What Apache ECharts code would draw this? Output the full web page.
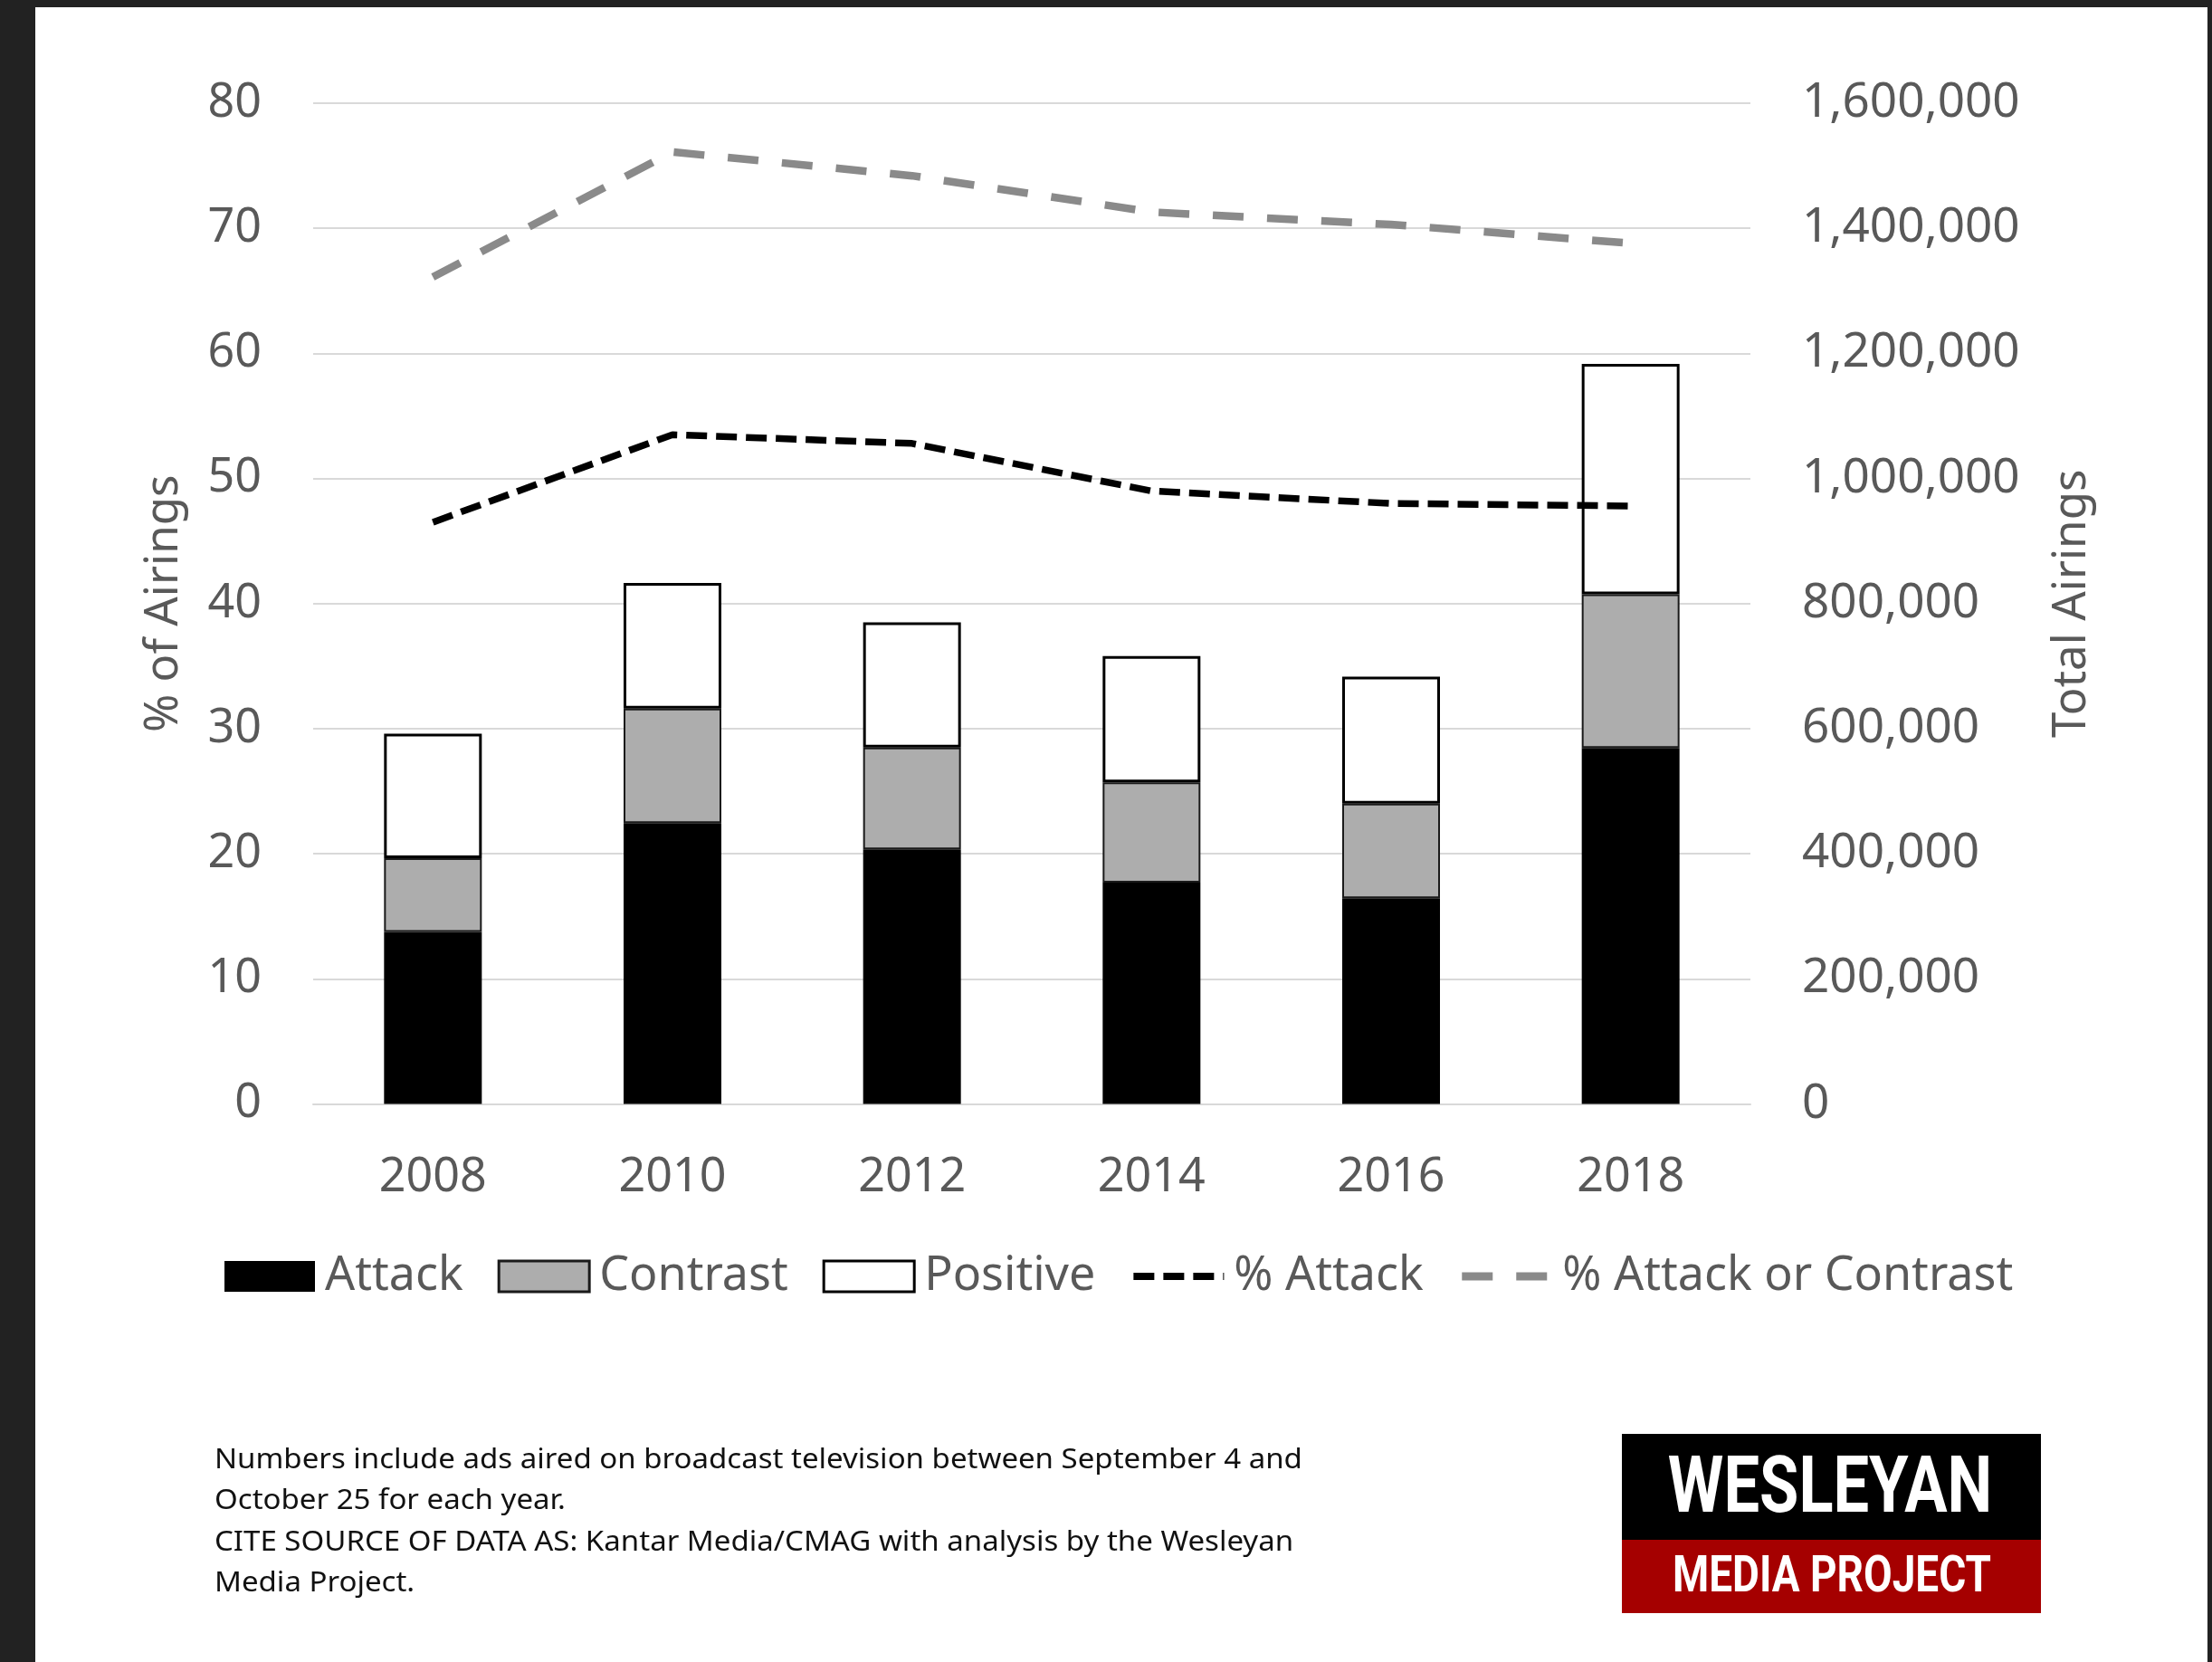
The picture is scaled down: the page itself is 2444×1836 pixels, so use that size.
<!DOCTYPE html>
<html>
<head>
<meta charset="utf-8">
<script src="https://cdn.jsdelivr.net/npm/echarts@6/dist/echarts.min.js"></script>
<style>
  html, body { margin: 0; padding: 0; background: #222; }
  #chart { width: 2444px; height: 1836px; }
</style>
</head>
<body>
<div id="chart"></div>
<script>
// values
const years = ["2008", "2010", "2012", "2014", "2016", "2018"];
const attack = [275000, 449000, 407000, 354000, 329000, 569000];
const contrast = [118000, 183000, 163000, 160000, 151000, 246000];
const positive = [199000, 201000, 200000, 202000, 203000, 368000];
const pctAttack = [46.5, 53.5, 52.8, 49.0, 48.0, 47.8];
const pctAttackOrContrast = [66.1, 76.1, 74.2, 71.3, 70.3, 68.8];
const footerLines = [
    "Numbers include ads aired on broadcast television between September 4 and",
    "October 25 for each year.",
    "CITE SOURCE OF DATA AS: Kantar Media/CMAG with analysis by the Wesleyan",
    "Media Project."
];

const FONT = "Noto Sans";
const LABEL = "#595959";
const noSymbol = { color: "rgba(0,0,0,0)", borderWidth: 0 };

const chart = echarts.init(document.getElementById("chart"));
chart.setOption({
    backgroundColor: "#222222",
    animation: false,
    textStyle: { fontFamily: FONT },
    grid: { left: 346, right: 510, top: 114, bottom: 616.5, containLabel: false },
    legend: {
        left: 248,
        top: 1384,
        padding: 0,
        itemWidth: 100,
        itemHeight: 34,
        itemGap: 38,
        textStyle: { fontFamily: FONT, fontSize: 52, color: LABEL, padding: [0, 0, 0, 6] },
        data: [
            { name: "Attack", icon: "rect", itemStyle: { borderWidth: 0 } },
            { name: "Contrast", icon: "rect", itemStyle: { borderWidth: 3 } },
            { name: "Positive", icon: "rect", itemStyle: { borderWidth: 3 } },
            { name: "% Attack", itemStyle: noSymbol, lineStyle: { width: 8 } },
            { name: "% Attack or Contrast", itemStyle: noSymbol, lineStyle: { width: 9 } }
        ]
    },
    xAxis: {
        type: "category",
        data: years,
        axisLine: { show: true, lineStyle: { color: "#D9D9D9", width: 2 } },
        axisTick: { show: false },
        axisLabel: { fontFamily: FONT, fontSize: 52, color: LABEL, margin: 56 }
    },
    yAxis: [
        {
            type: "value",
            min: 0, max: 80, interval: 10,
            name: "% of Airings",
            nameLocation: "middle",
            nameGap: 139,
            nameTextStyle: { fontFamily: FONT, fontSize: 51, color: LABEL },
            axisLine: { show: false },
            axisTick: { show: false },
            splitLine: { lineStyle: { color: "#D9D9D9", width: 2 } },
            axisLabel: { fontFamily: FONT, fontSize: 52, color: LABEL, margin: 57, padding: [6, 0, 0, 0] }
        },
        {
            type: "value",
            min: 0, max: 1600000, interval: 200000,
            position: "right",
            name: "Total Airings",
            nameLocation: "middle",
            nameGap: 330,
            nameTextStyle: { fontFamily: FONT, fontSize: 51, color: LABEL },
            axisLine: { show: false },
            axisTick: { show: false },
            splitLine: { show: false },
            axisLabel: {
                fontFamily: FONT, fontSize: 53, color: LABEL, margin: 57, padding: [6, 0, 0, 0],
                formatter: v => v.toLocaleString("en-US")
            }
        }
    ],
    series: [
        {
            name: "Attack", type: "bar", stack: "airings", yAxisIndex: 1,
            barWidth: 108, data: attack,
            itemStyle: { color: "#000000", borderColor: "#000000", borderWidth: 2 }
        },
        {
            name: "Contrast", type: "bar", stack: "airings", yAxisIndex: 1,
            barWidth: 108, data: contrast,
            itemStyle: { color: "#ADADAD", borderColor: "#1a1a1a", borderWidth: 2 }
        },
        {
            name: "Positive", type: "bar", stack: "airings", yAxisIndex: 1,
            barWidth: 108, data: positive,
            itemStyle: { color: "#FFFFFF", borderColor: "#000000", borderWidth: 3 }
        },
        {
            name: "% Attack", type: "line", yAxisIndex: 0, data: pctAttack,
            symbol: "none", z: 5,
            itemStyle: { color: "#000000" },
            lineStyle: { color: "#000000", width: 7.5, type: [23, 10], cap: "butt" }
        },
        {
            name: "% Attack or Contrast", type: "line", yAxisIndex: 0, data: pctAttackOrContrast,
            symbol: "none", z: 5,
            itemStyle: { color: "#8A8A8A" },
            lineStyle: { color: "#8A8A8A", width: 8.5, type: [34, 26], cap: "butt" }
        }
    ],
    graphic: [
        { type: "rect", z: -10, shape: { x: 39, y: 8, width: 2400, height: 1828 }, style: { fill: "#FFFFFF" } },
        {
            type: "text", x: 237, y: 1590, scaleX: 1.065,
            style: {
                text: footerLines.join("\n"),
                fontFamily: FONT, fontSize: 31, lineHeight: 45.5,
                fill: "#111111", textAlign: "left", textVerticalAlign: "top"
            }
        },
        { type: "rect", shape: { x: 1792, y: 1584, width: 463, height: 117 }, style: { fill: "#000000" } },
        { type: "rect", shape: { x: 1792, y: 1701, width: 463, height: 81 }, style: { fill: "#A50000" } },
        {
            type: "text", x: 2022, y: 1648, scaleX: 0.8,
            style: {
                text: "WESLEYAN", fontFamily: "Roboto", fontWeight: "bold", fontSize: 88,
                fill: "#FFFFFF", textAlign: "center", textVerticalAlign: "middle"
            }
        },
        {
            type: "text", x: 2024, y: 1744, scaleX: 0.82,
            style: {
                text: "MEDIA PROJECT", fontFamily: "Roboto", fontWeight: "bold", fontSize: 56,
                fill: "#FFFFFF", textAlign: "center", textVerticalAlign: "middle"
            }
        }
    ]
});
</script>
</body>
</html>
